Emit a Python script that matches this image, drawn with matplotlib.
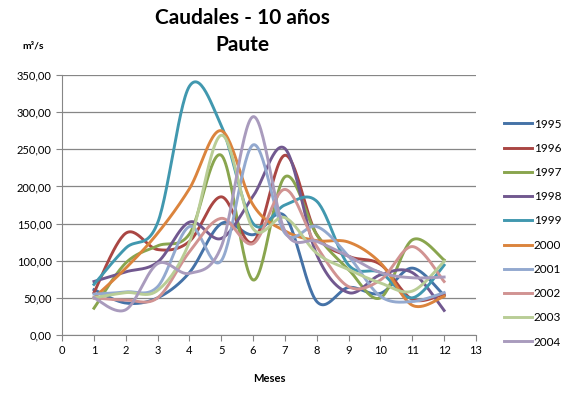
import matplotlib.pyplot as plt
import numpy as np

plt.rcParams['font.family'] = ['Lato', 'DejaVu Sans']

# Meses y caudales (m3/s) por año
meses = [1, 2, 3, 4, 5, 6, 7, 8, 9, 10, 11, 12]
anios = ['1995', '1996', '1997', '1998', '1999', '2000', '2001', '2002', '2003', '2004']

q1995 = [61, 43, 50, 84, 150, 135, 160, 45, 64, 56, 90, 53]
q1996 = [57, 137, 115, 126, 186, 125, 242, 135, 106, 95, 48, 55]
q1997 = [36, 97, 120, 136, 242, 74, 213, 135, 88, 50, 128, 101]
q1998 = [72, 85, 98, 152, 130, 187, 251, 108, 57, 81, 84, 33]
q1999 = [68, 117, 151, 335, 282, 150, 175, 180, 94, 84, 50, 94]
q2000 = [50, 90, 137, 197, 275, 175, 140, 127, 125, 97, 40, 52]
q2001 = [55, 58, 65, 146, 100, 256, 137, 146, 106, 52, 45, 57]
q2002 = [50, 47, 50, 112, 157, 123, 196, 119, 65, 74, 119, 72]
q2003 = [50, 57, 60, 125, 269, 143, 158, 110, 88, 70, 59, 99]
q2004 = [50, 34, 96, 83, 119, 294, 140, 126, 106, 84, 77, 78]

series = [q1995, q1996, q1997, q1998, q1999, q2000, q2001, q2002, q2003, q2004]
colores = ['#4572A7', '#AA4643', '#89A54E', '#71588F', '#4198AF',
           '#DB843D', '#93A9CF', '#D19392', '#B9CD96', '#A99BBD']


def suavizar(x, y, n=30):
    # curva tipo "línea suavizada" de Excel (Bezier Catmull-Rom)
    p = np.column_stack([x, y]).astype(float)
    p = np.vstack([p[0], p, p[-1]])
    xs, ys = [], []
    t = np.linspace(0, 1, n)
    for i in range(1, len(p) - 2):
        p0, p1, p2, p3 = p[i - 1], p[i], p[i + 1], p[i + 2]
        b1 = p1 + (p2 - p0) / 6
        b2 = p2 - (p3 - p1) / 6
        c = ((1 - t) ** 3)[:, None] * p1 + (3 * (1 - t) ** 2 * t)[:, None] * b1 \
            + (3 * (1 - t) * t ** 2)[:, None] * b2 + (t ** 3)[:, None] * p2
        xs.extend(c[:, 0])
        ys.extend(c[:, 1])
    return xs, ys


fig = plt.figure(figsize=(5.7, 3.95), dpi=100)
ax = fig.add_axes([0.109, 0.152, 0.726, 0.658])

for nombre, q, col in zip(anios, series, colores):
    xs, ys = suavizar(meses, q)
    ax.plot(xs, ys, color=col, lw=2.1, label=nombre)

ax.set_xlim(0, 13)
ax.set_ylim(0, 350)
ax.set_xticks(range(0, 14))
ax.set_yticks(range(0, 351, 50))
ax.set_yticklabels([f'{v},00' for v in range(0, 351, 50)])
ax.tick_params(labelsize=8, color='#868686', length=4)
ax.grid(axis='y', color='#868686', lw=0.9)
ax.set_axisbelow(True)
for s in ['top', 'right']:
    ax.spines[s].set_visible(False)
for s in ['left', 'bottom']:
    ax.spines[s].set_color('#868686')

ax.set_xlabel('Meses', fontsize=8, fontweight='bold', labelpad=12)

fig.text(0.425, 0.955, 'Caudales - 10 años', ha='center', va='center',
         fontsize=15, fontweight='bold')
fig.text(0.425, 0.885, 'Paute', ha='center', va='center',
         fontsize=15, fontweight='bold')
fig.text(0.058, 0.883, 'm³/s', ha='center', va='center',
         fontsize=7.5, fontweight='bold')

fig.legend(loc='center left', bbox_to_anchor=(0.865, 0.41), frameon=False,
           fontsize=8.5, handlelength=2.4, handletextpad=0.15, labelspacing=1.12)

fig.savefig('out.png', dpi=100)
